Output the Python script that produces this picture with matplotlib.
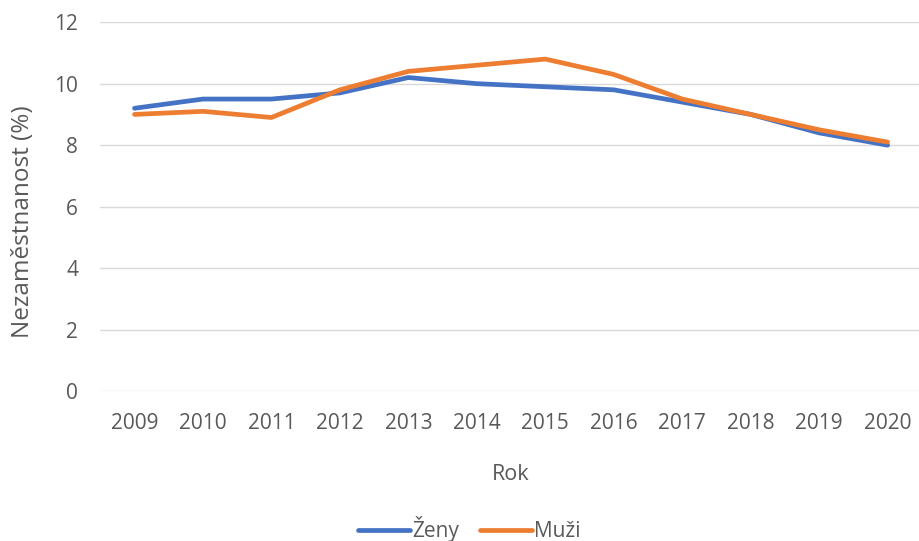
import matplotlib.pyplot as plt

years = ['2009', '2010', '2011', '2012', '2013', '2014', '2015', '2016', '2017', '2018', '2019', '2020']
zeny = [9.2, 9.5, 9.5, 9.7, 10.2, 10.0, 9.9, 9.8, 9.4, 9.0, 8.4, 8.0]
muzi = [9.0, 9.1, 8.9, 9.8, 10.4, 10.6, 10.8, 10.3, 9.5, 9.0, 8.5, 8.1]

plt.rcParams['font.family'] = ['Open Sans', 'DejaVu Sans']

fig = plt.figure(figsize=(9.2, 5.41), dpi=100)
ax = fig.add_axes([0.109, 0.277, 0.893, 0.682])

x = range(len(years))
ax.plot(x, zeny, color='#4472C4', lw=3.4, label='Ženy', solid_capstyle='round')
ax.plot(x, muzi, color='#ED7D31', lw=3.4, label='Muži', solid_capstyle='round')

ax.set_xlim(-0.5, len(years) - 0.5)
ax.set_ylim(0, 12)
ax.set_yticks(range(0, 13, 2))
ax.set_xticks(list(x))
ax.set_xticklabels(years)
ax.grid(axis='y', color='#D9D9D9', lw=1)
ax.set_axisbelow(True)
for s in ax.spines.values():
    s.set_visible(False)
ax.tick_params(length=0, labelsize=15, colors='#595959', pad=16)
ax.tick_params(axis='y', pad=16)

ax.set_xlabel('Rok', fontsize=15.5, color='#595959', labelpad=21)
ax.set_ylabel('Nezaměstnanost (%)', fontsize=17.5, color='#595959')
ax.yaxis.set_label_coords(-0.08, 0.458)

fig.legend(loc='center', bbox_to_anchor=(0.51, 0.022), ncol=2, frameon=False,
           fontsize=15, labelcolor='#595959', handlelength=2.5, handletextpad=0.1,
           columnspacing=1.0)

fig.savefig('out.png', dpi=100)
